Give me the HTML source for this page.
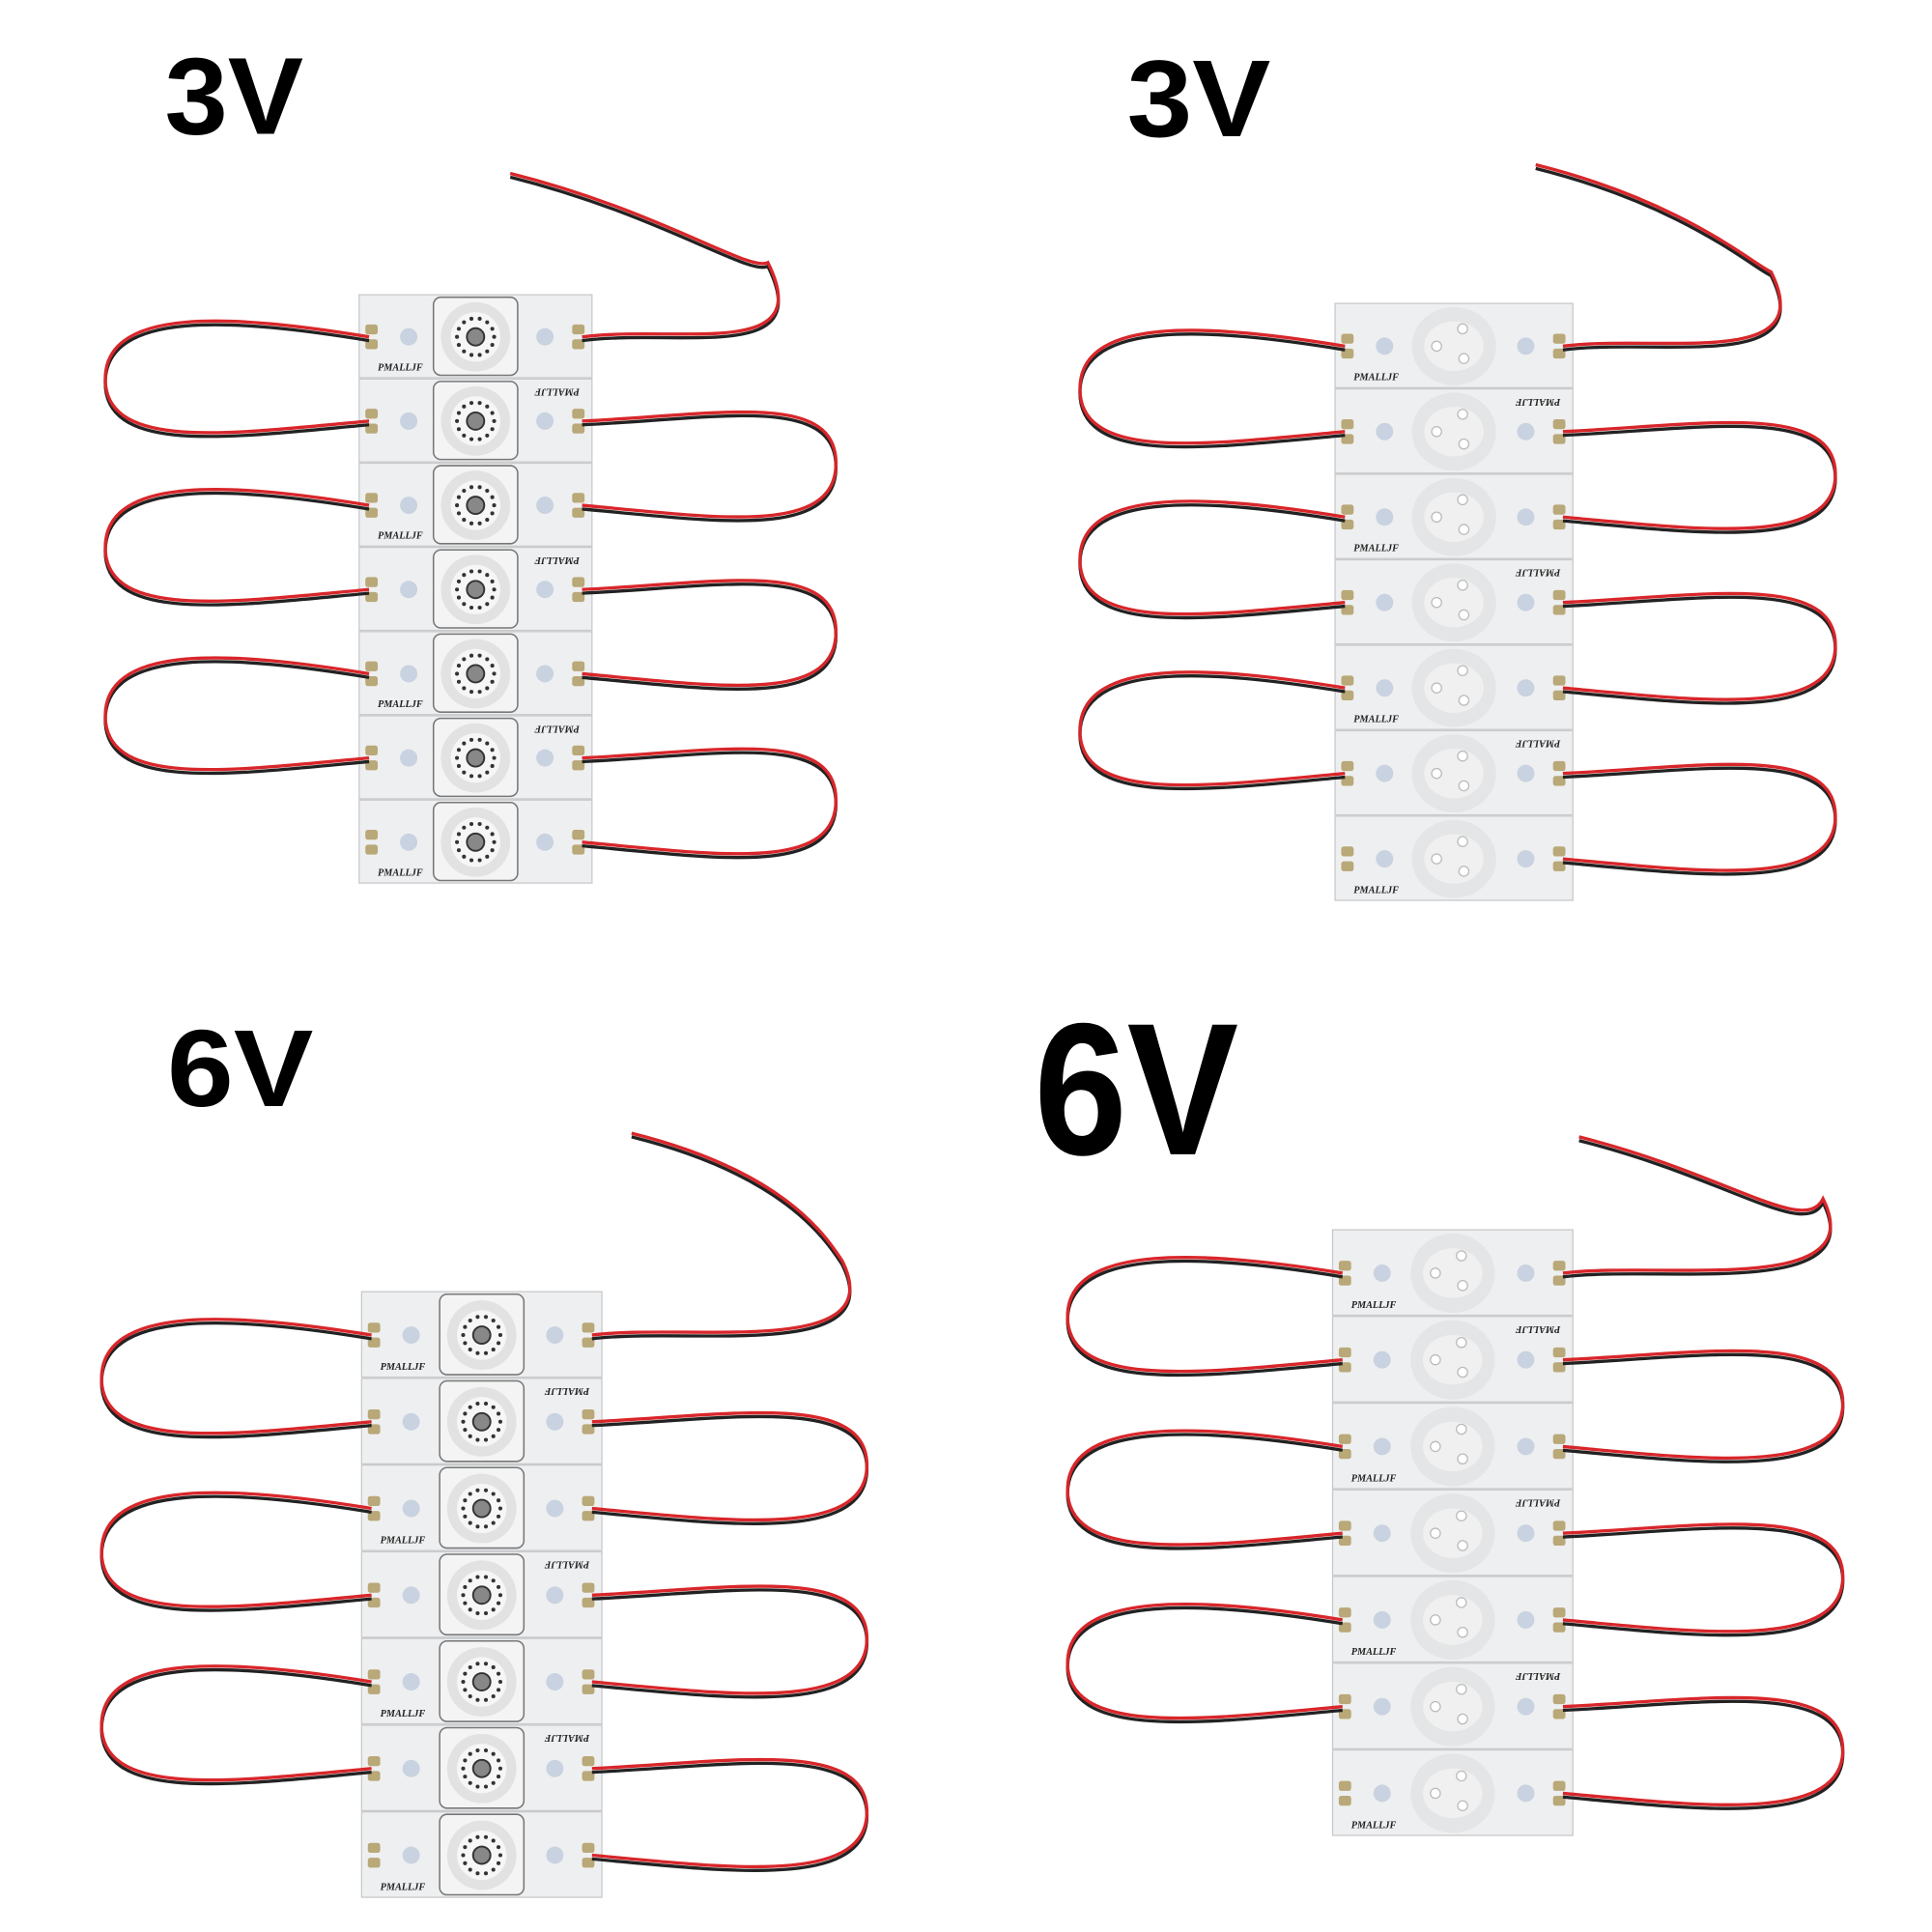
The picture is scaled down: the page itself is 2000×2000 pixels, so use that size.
<!DOCTYPE html>
<html><head><meta charset="utf-8"><style>html,body{margin:0;padding:0;background:#fff}svg{display:block}</style></head>
<body>
<svg id="s" width="2000" height="2000" viewBox="0 0 1560 1560" xmlns="http://www.w3.org/2000/svg">
<rect width="1560" height="1560" fill="#fff"/>
<g font-family="Liberation Sans, sans-serif" font-weight="bold" fill="#000">
<text x="133" y="108" font-size="88" textLength="112" lengthAdjust="spacingAndGlyphs">3V</text>
<text x="910" y="110" font-size="88" textLength="116" lengthAdjust="spacingAndGlyphs">3V</text>
<text x="135" y="893" font-size="88" textLength="118" lengthAdjust="spacingAndGlyphs">6V</text>
<text x="835" y="932" font-size="152" textLength="165" lengthAdjust="spacingAndGlyphs">6V</text>
</g>
<g id="g"></g>
</svg>
<script>
var g=document.getElementById('g'),h='';
function wire(d){h+='<path d="'+d+'" fill="none" stroke="#222" stroke-width="2.6" transform="translate(0,3)"/><path d="'+d+'" fill="none" stroke="#d8262a" stroke-width="2.6"/>';}
function board(x0,y0,w,mh,n,type){
 var x1=x0+w;
 for(var i=0;i<n;i++){
  var y=y0+i*mh,cx=x0+w/2,cy=y+mh/2;
  h+='<rect x="'+x0+'" y="'+y+'" width="'+w+'" height="'+(mh-1)+'" fill="#eeeff0" stroke="#c8c9cb" stroke-width="1"/>';
  if(type==0){
   h+='<rect x="'+(cx-34)+'" y="'+(y+2)+'" width="68" height="'+(mh-5)+'" rx="6" fill="#f4f4f4" stroke="#777" stroke-width="1.2"/>';
   h+='<circle cx="'+cx+'" cy="'+cy+'" r="28" fill="#e2e2e2"/><circle cx="'+cx+'" cy="'+cy+'" r="20" fill="#f6f6f6"/>';
   for(var k=0;k<14;k++){var a=k/14*6.283;h+='<circle cx="'+(cx+15*Math.cos(a))+'" cy="'+(cy+15*Math.sin(a))+'" r="1.6" fill="#333"/>';}
   h+='<circle cx="'+cx+'" cy="'+cy+'" r="7" fill="#888" stroke="#333" stroke-width="1.5"/>';
  }else{
   h+='<ellipse cx="'+cx+'" cy="'+cy+'" rx="34" ry="'+(mh/2-3)+'" fill="#e4e5e6"/><ellipse cx="'+cx+'" cy="'+cy+'" rx="24" ry="20" fill="#f0f0f0"/>';
   h+='<circle cx="'+(cx+7)+'" cy="'+(cy-14)+'" r="4" fill="#fff" stroke="#bbb"/><circle cx="'+(cx-14)+'" cy="'+(cy)+'" r="4" fill="#fff" stroke="#bbb"/><circle cx="'+(cx+8)+'" cy="'+(cy+10)+'" r="4" fill="#fff" stroke="#bbb"/>';
  }
  h+='<circle cx="'+(x0+40)+'" cy="'+cy+'" r="7" fill="#c8d2e0"/><circle cx="'+(x1-38)+'" cy="'+cy+'" r="7" fill="#c8d2e0"/>';
  h+='<rect x="'+(x0+5)+'" y="'+(cy-10)+'" width="10" height="8" rx="2" fill="#b9a878"/><rect x="'+(x0+5)+'" y="'+(cy+2)+'" width="10" height="8" rx="2" fill="#b9a878"/>';
  h+='<rect x="'+(x1-16)+'" y="'+(cy-10)+'" width="10" height="8" rx="2" fill="#b9a878"/><rect x="'+(x1-16)+'" y="'+(cy+2)+'" width="10" height="8" rx="2" fill="#b9a878"/>';
  h+='<text font-family="Liberation Serif,serif" font-style="italic" font-weight="bold" font-size="8" fill="#222" ';
  if(i%2==0)h+='x="'+(x0+15)+'" y="'+(y+mh-7)+'">PMALLJF</text>';
  else h+='transform="translate('+(x1-10)+','+(y+8)+') rotate(180)">PMALLJF</text>';
 }
}
function loopL(x,y1,y2,ox){var m=(y1+y2)/2;wire('M'+x+','+y1+' C'+(x-110)+','+(y1-18)+' '+ox+','+(y1-25)+' '+ox+','+m+' C'+ox+','+(y2+25)+' '+(x-110)+','+(y2+10)+' '+x+','+y2);}
function loopR(x,y1,y2,ox){var m=(y1+y2)/2;wire('M'+x+','+y1+' C'+(x+110)+','+(y1-5)+' '+ox+','+(y1-25)+' '+ox+','+m+' C'+ox+','+(y2+25)+' '+(x+110)+','+(y2+10)+' '+x+','+y2);}
function panel(x0,y0,w,mh,type,lo,ro,tx,ty,tc){
 board(x0,y0,w,mh,7,type);
 var c=function(i){return y0+i*mh+mh/2;};
 var xl=x0+8,xr=x0+w-8;
 loopL(xl,c(0),c(1),lo);loopL(xl,c(2),c(3),lo);loopL(xl,c(4),c(5),lo);
 loopR(xr,c(1),c(2),ro);loopR(xr,c(3),c(4),ro);loopR(xr,c(5),c(6),ro);
 wire('M'+xr+','+c(0)+' C'+(xr+80)+','+(c(0)-10)+' '+(tc+40)+','+(c(0)+20)+' '+tc+','+(c(0)-60)+' C'+(tc-15)+','+(ty+80)+' '+(tx+120)+','+(ty+30)+' '+tx+','+ty);
}
panel(290,238,188,68,0,85,675,412,140,620);
panel(1078,245,192,69,1,872,1482,1240,133,1430);
panel(292,1043,194,70,0,82,700,510,915,680);
panel(1076,993,194,70,1,862,1488,1275,918,1472);
g.innerHTML=h;
</script>
</body></html>
